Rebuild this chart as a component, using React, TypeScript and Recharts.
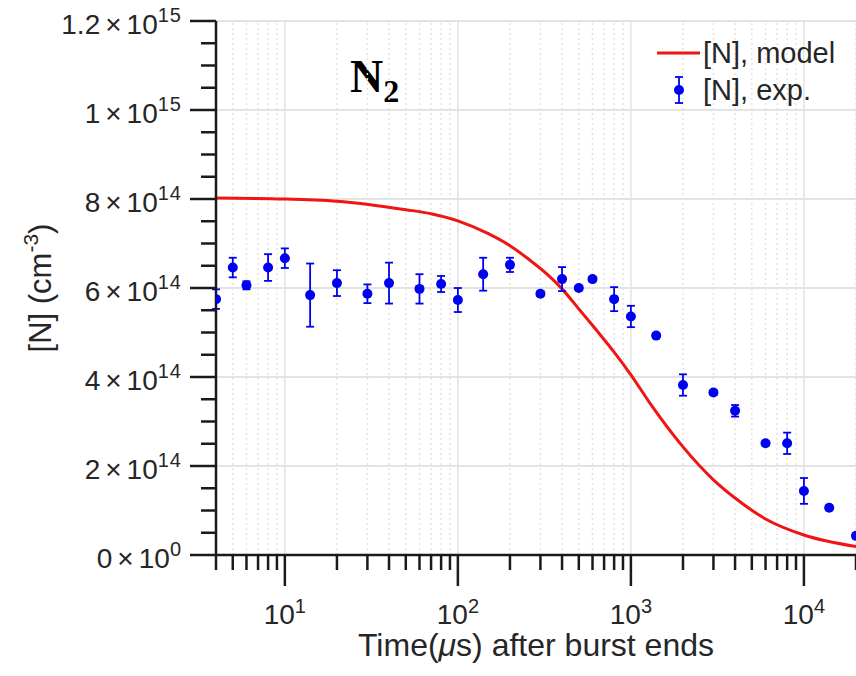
import {
  ComposedChart,
  Customized,
  ErrorBar,
  Label,
  Legend,
  Line,
  ReferenceLine,
  Scatter,
  XAxis,
  YAxis,
} from "recharts";

// measured [N] (units of 1e14 cm^-3) vs time after burst (us)
const expTime = [
  4, 5, 6, 8, 10, 14, 20, 30, 40, 60, 80, 100, 140, 200, 300, 400, 500, 600,
  800, 1000, 1400, 2000, 3000, 4000, 6000, 8000, 10000, 14000, 20000,
];
const expN = [
  5.75, 6.46, 6.06, 6.46, 6.67, 5.84, 6.11, 5.87, 6.11, 5.98, 6.09, 5.73, 6.31,
  6.52, 5.87, 6.2, 6.0, 6.2, 5.75, 5.36, 4.93, 3.82, 3.65, 3.24, 2.51, 2.51,
  1.44, 1.06, 0.43,
];
const expErr = [
  0.22, 0.22, 0.09, 0.3, 0.22, 0.71, 0.29, 0.21, 0.46, 0.33, 0.18, 0.27, 0.37,
  0.16, 0.05, 0.27, 0.05, 0.05, 0.27, 0.24, 0.05, 0.24, 0.05, 0.13, 0.05, 0.24,
  0.29, 0.05, 0.05,
];

// model curve
const modelTime = [
  4, 10, 20, 50, 70, 100, 150, 200, 260, 330, 400, 500, 630, 800, 1000, 1300,
  2000, 3000, 4000, 6000, 10000, 20000,
];
const modelN = [
  8.02, 8.0, 7.95, 7.76, 7.67, 7.51, 7.22, 6.95, 6.63, 6.3, 5.98, 5.53, 5.06,
  4.56, 4.05, 3.39, 2.43, 1.69, 1.28, 0.81, 0.45, 0.19,
];

const xMajorTicks = [10, 100, 1000, 10000];
const xMinorTicks = [
  4, 5, 6, 7, 8, 9, 20, 30, 40, 50, 60, 70, 80, 90, 200, 300, 400, 500, 600,
  700, 800, 900, 2000, 3000, 4000, 5000, 6000, 7000, 8000, 9000, 20000,
];
const yMajorTicks = [0, 2e14, 4e14, 6e14, 8e14, 1e15, 1.2e15];
const yMinorTicks = [
  0.5e14, 1e14, 1.5e14, 2.5e14, 3e14, 3.5e14, 4.5e14, 5e14, 5.5e14, 6.5e14,
  7e14, 7.5e14, 8.5e14, 9e14, 9.5e14, 10.5e14, 11e14, 11.5e14,
];

const expData = expTime.map((t, i) => ({
  t,
  n: expN[i] * 1e14,
  err: expErr[i] * 1e14,
}));
const modelData = modelTime.map((t, i) => ({ t, n: modelN[i] * 1e14 }));

const xTicks = [...xMinorTicks, ...xMajorTicks].sort((a, b) => a - b);
const yTicks = [...yMinorTicks, ...yMajorTicks].sort((a, b) => a - b);

const FONT = "'Liberation Sans', Arial, Helvetica, sans-serif";
const AXIS = "#1a1a1a";
const TEXT = "#262626";
const RED = "#f01414";
const BLUE = "#0000f0";
const GRID = "#e3e3e3";

function XTick(props: any) {
  const { x, y, payload } = props;
  const v = payload.value;
  const major = xMajorTicks.includes(v);
  return (
    <g>
      <line
        x1={x}
        x2={x}
        y1={y}
        y2={y + (major ? 31 : 15)}
        stroke={AXIS}
        strokeWidth={2.5}
      />
      {major && (
        <text
          x={x}
          y={y + 69}
          textAnchor="middle"
          fontFamily={FONT}
          fontSize={28}
          fill={TEXT}
        >
          10
          <tspan dy={-11} fontSize={20}>
            {Math.round(Math.log10(v))}
          </tspan>
        </text>
      )}
    </g>
  );
}

function YTick(props: any) {
  const { x, y, payload } = props;
  const v = payload.value;
  const major = yMajorTicks.includes(v);
  const exp = v === 0 ? 0 : Math.floor(Math.log10(v) + 1e-9);
  const mant = v === 0 ? 0 : Math.round((v / Math.pow(10, exp)) * 10) / 10;
  return (
    <g>
      <line
        x1={x}
        x2={x - (major ? 26 : 15)}
        y1={y}
        y2={y}
        stroke={AXIS}
        strokeWidth={2.5}
      />
      {major && (
        <text
          x={x - 34}
          y={y + 13}
          textAnchor="end"
          fontFamily={FONT}
          fontSize={28}
          fill={TEXT}
        >
          {mant}
          <tspan dx={5}>×</tspan>
          <tspan dx={5}>10</tspan>
          <tspan dy={-12} fontSize={20} letterSpacing={1}>
            {exp}
          </tspan>
        </text>
      )}
    </g>
  );
}

function XTitle(props: any) {
  const { viewBox } = props;
  return (
    <text
      x={viewBox.x + viewBox.width / 2}
      y={viewBox.y + 101}
      textAnchor="middle"
      fontFamily={FONT}
      fontSize={32}
      fill={TEXT}
    >
      Time(<tspan fontStyle="italic">μ</tspan>s) after burst ends
    </text>
  );
}

function YTitle(props: any) {
  const { viewBox } = props;
  const cx = 51;
  const cy = viewBox.y + viewBox.height / 2;
  return (
    <text
      x={cx}
      y={cy}
      transform={`rotate(-90, ${cx}, ${cy})`}
      textAnchor="middle"
      fontFamily={FONT}
      fontSize={31}
      fill={TEXT}
    >
      [N] (cm
      <tspan dy={-13} fontSize={21}>
        -3
      </tspan>
      <tspan dy={13}>)</tspan>
    </text>
  );
}

function GasLabel() {
  return (
    <text
      x={350}
      y={92}
      fontFamily="'Liberation Serif', 'Times New Roman', serif"
      fontWeight="bold"
      fontSize={46}
      fill="#000"
    >
      N
      <tspan dy={10} fontSize={32}>
        2
      </tspan>
    </text>
  );
}

function LegendBox(props: any) {
  const items = [...(props.payload || [])].sort(
    (a: any, b: any) => (a.type === "line" ? 0 : 1) - (b.type === "line" ? 0 : 1),
  );
  return (
    <svg width={210} height={85} style={{ display: "block" }}>
      {items.map((it: any, i: number) => {
        const cy = i === 0 ? 23 : 60;
        const isLine = it.type === "line";
        return (
          <g key={i}>
            {isLine ? (
              <line x1={12} x2={55} y1={cy} y2={cy} stroke={RED} strokeWidth={3} />
            ) : (
              <g stroke={BLUE} strokeWidth={1.8}>
                <line x1={34} x2={34} y1={cy - 13} y2={cy + 13} />
                <line x1={30} x2={38} y1={cy - 13} y2={cy - 13} />
                <line x1={30} x2={38} y1={cy + 13} y2={cy + 13} />
                <circle cx={34} cy={cy} r={5} fill={BLUE} stroke="none" />
              </g>
            )}
            <text
              x={58}
              y={cy + 10}
              fontFamily={FONT}
              fontSize={29}
              fill={TEXT}
            >
              {it.value}
            </text>
          </g>
        );
      })}
    </svg>
  );
}

const Dot = (props: any) => (
  <circle cx={props.cx} cy={props.cy} r={5} fill={BLUE} />
);

export default function App() {
  return (
    <div style={{ position: "absolute", left: 0, top: 0, background: "#fff" }}>
      <ComposedChart
        width={856}
        height={676}
        margin={{ top: 21, right: 0, left: 80, bottom: 21 }}
      >
        {xMinorTicks.map((v) => (
          <ReferenceLine
            key={`xm${v}`}
            x={v}
            stroke={GRID}
            strokeWidth={1.5}
            strokeDasharray="2 3"
          />
        ))}
        {xMajorTicks.map((v) => (
          <ReferenceLine key={`xM${v}`} x={v} stroke={GRID} strokeWidth={1.5} />
        ))}
        {yMajorTicks.map((v) => (
          <ReferenceLine key={`yM${v}`} y={v} stroke={GRID} strokeWidth={2} />
        ))}
        <XAxis
          dataKey="t"
          type="number"
          scale="log"
          domain={[4, 20000]}
          allowDataOverflow
          ticks={xTicks}
          interval={0}
          tickSize={0}
          tickMargin={0}
          tick={<XTick />}
          height={100}
          axisLine={{ stroke: AXIS, strokeWidth: 2.5 }}
        >
          <Label content={<XTitle />} />
        </XAxis>
        <YAxis
          dataKey="n"
          type="number"
          domain={[0, 1.2e15]}
          allowDataOverflow
          ticks={yTicks}
          interval={0}
          tickSize={0}
          tickMargin={0}
          tick={<YTick />}
          width={136}
          axisLine={{ stroke: AXIS, strokeWidth: 2.5 }}
        >
          <Label content={<YTitle />} />
        </YAxis>
        <Line
          data={modelData}
          dataKey="n"
          name="[N], model"
          type="monotone"
          stroke={RED}
          strokeWidth={3}
          dot={false}
          isAnimationActive={false}
        />
        <Scatter
          data={expData}
          dataKey="n"
          name="[N], exp."
          fill={BLUE}
          shape={<Dot />}
          isAnimationActive={false}
        >
          <ErrorBar
            dataKey="err"
            direction="y"
            width={4}
            stroke={BLUE}
            strokeWidth={1.8}
            isAnimationActive={false}
          />
        </Scatter>
        <Customized component={<GasLabel />} />
        <Legend
          layout="vertical"
          align="center"
          verticalAlign="middle"
          content={<LegendBox />}
          wrapperStyle={{ left: 645, top: 30, width: 210, height: 85 }}
        />
      </ComposedChart>
    </div>
  );
}
